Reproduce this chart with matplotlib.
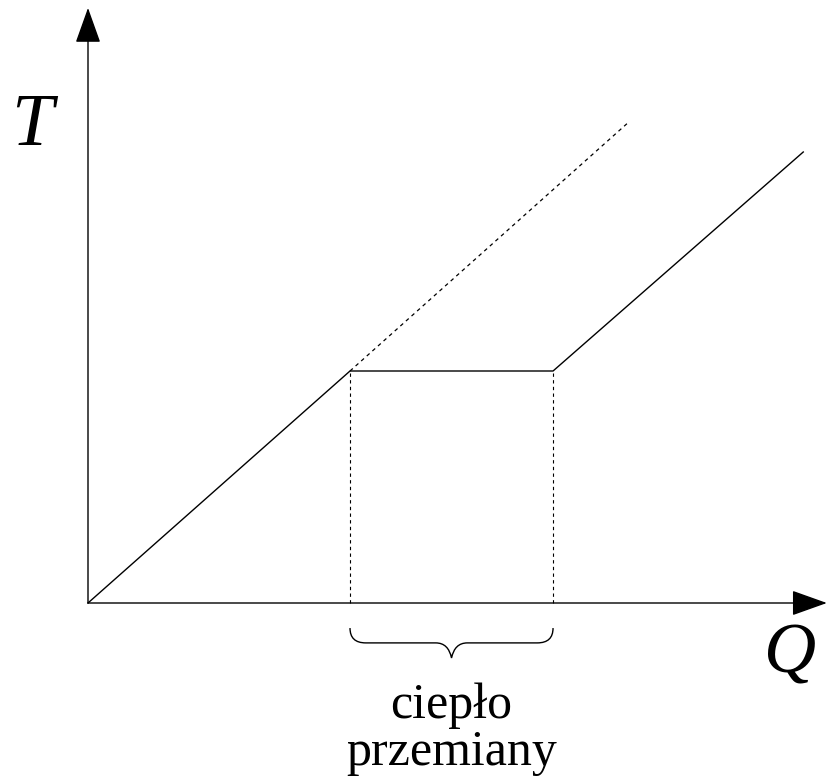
import matplotlib.pyplot as plt
import numpy as np
from matplotlib.path import Path
from matplotlib.patches import PathPatch

# heating curve: Q (heat) vs T (temperature), arbitrary units
q_heat = [0.0, 1.0, 1.775, 2.73]
t_heat = [0.0, 1.0, 1.0, 1.944]
# extrapolation of the first segment (no phase change)
q_extra = [1.0, 2.06]
t_extra = [1.0, 2.069]
q_axis_end = 2.82
t_axis_end = 2.565

fig = plt.figure(figsize=(8.27, 7.82), dpi=100)
ax = fig.add_axes([0, 0, 1, 1])
ax.set_xlim(-88 / 262, (827 - 88) / 262)
ax.set_ylim((603 - 782) / 232, 603 / 232)
ax.axis('off')

# axes with arrows
arr = dict(arrowstyle='-|>,head_length=1.4,head_width=0.5', color='k', lw=1.0,
           shrinkA=0, shrinkB=0, mutation_scale=16)
ax.annotate('', xy=(q_axis_end, 0), xytext=(0, 0), arrowprops=arr)
ax.annotate('', xy=(0, t_axis_end), xytext=(0, 0), arrowprops=arr)

ax.plot(q_heat, t_heat, color='k', lw=1.0)
ax.plot(q_extra, t_extra, color='k', lw=0.9, dashes=(3, 3))
for q in q_heat[1:3]:
    ax.plot([q, q], [0, t_heat[1]], color='k', lw=0.8, dashes=(3, 3))

# curly brace below the plateau
x0, x1 = q_heat[1], q_heat[2]
xm = (x0 + x1) / 2
ytop, ymid, ytip = -0.108, -0.172, -0.237
r = 0.06
verts = [(x0, ytop), (x0, ymid), (x0 + r, ymid), (x0 + r, ymid),
         (xm - r, ymid), (xm - r * 0.2, ymid), (xm, ytip),
         (xm + r * 0.2, ymid), (xm + r, ymid), (xm + r, ymid),
         (x1 - r, ymid), (x1, ymid), (x1, ytop)]
codes = [Path.MOVETO, Path.CURVE3, Path.CURVE3, Path.LINETO,
         Path.LINETO, Path.CURVE3, Path.CURVE3,
         Path.CURVE3, Path.CURVE3, Path.LINETO,
         Path.LINETO, Path.CURVE3, Path.CURVE3]
ax.add_patch(PathPatch(Path(verts, codes), fill=False, lw=1.0, color='k'))

serif = ['Liberation Serif', 'DejaVu Serif']
ax.text(-0.295, 2.05, 'T', fontsize=54, style='italic', family=serif,
        ha='left', va='center')
ax.text(2.775, -0.224, 'Q', fontsize=52, style='italic', family=serif,
        ha='right', va='center')
ax.text(xm, -0.545, 'ciepło\nprzemiany', fontsize=36, family=serif,
        ha='center', va='center', linespacing=1.0)

fig.savefig('out.png', dpi=100)
